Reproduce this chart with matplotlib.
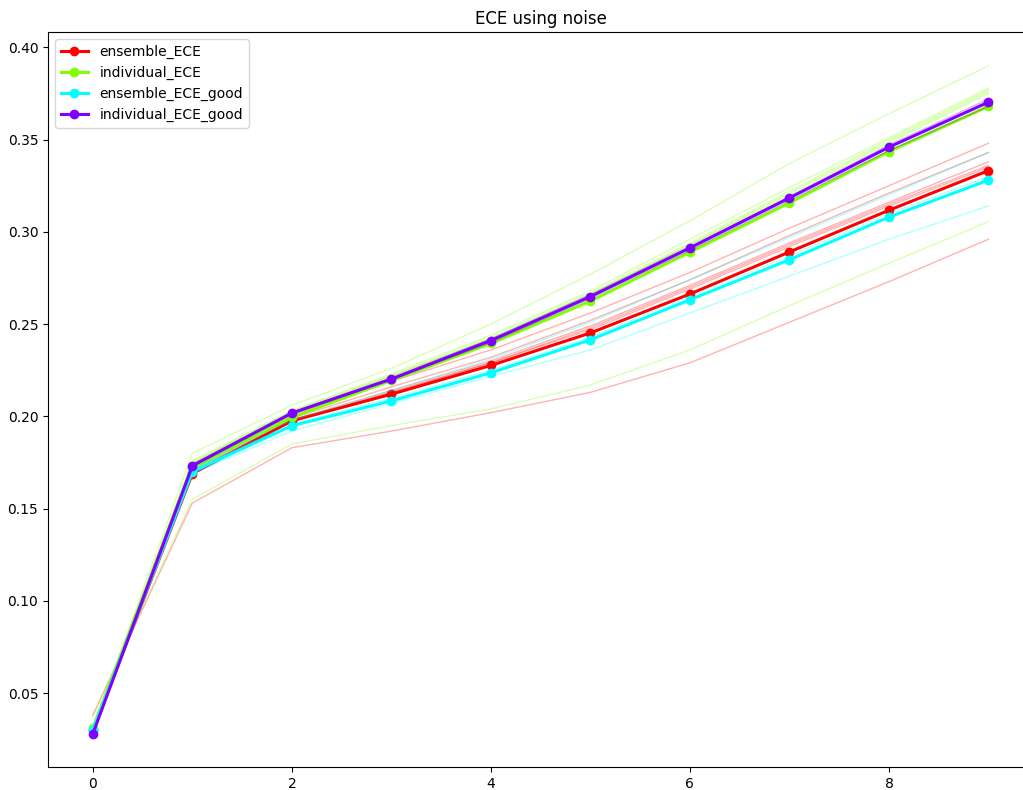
import numpy as np
import matplotlib
matplotlib.use("Agg")
import matplotlib.pyplot as plt

steps = np.arange(10)

# mean ECE per noise level
ensemble_ece = [0.030, 0.169, 0.1976, 0.212, 0.2276, 0.2452, 0.2663, 0.2891, 0.3117, 0.3332]
individual_ece = [0.031, 0.172, 0.1995, 0.2195, 0.2395, 0.2625, 0.289, 0.3157, 0.3435, 0.368]
ensemble_ece_good = [0.030, 0.170, 0.1949, 0.2084, 0.2236, 0.2415, 0.2632, 0.2849, 0.3080, 0.3280]
individual_ece_good = [0.028, 0.1732, 0.2018, 0.2202, 0.2411, 0.2649, 0.2913, 0.3184, 0.3459, 0.3703]

# single runs behind each mean
ensemble_runs = [
    [0.030, 0.174, 0.201, 0.219, 0.236, 0.256, 0.278, 0.302, 0.325, 0.348],
    [0.030, 0.172, 0.199, 0.216, 0.232, 0.252, 0.274, 0.298, 0.321, 0.343],
    [0.030, 0.171, 0.198, 0.214, 0.230, 0.249, 0.271, 0.294, 0.316, 0.338],
    [0.030, 0.170, 0.198, 0.213, 0.229, 0.248, 0.270, 0.293, 0.315, 0.336],
    [0.030, 0.170, 0.197, 0.213, 0.229, 0.247, 0.269, 0.292, 0.314, 0.335],
    [0.038, 0.153, 0.183, 0.192, 0.202, 0.213, 0.229, 0.251, 0.273, 0.296],
]
individual_runs = [
    [0.031, 0.180, 0.206, 0.226, 0.250, 0.277, 0.306, 0.337, 0.364, 0.390],
    [0.031, 0.176, 0.203, 0.223, 0.244, 0.268, 0.296, 0.324, 0.351, 0.378],
    [0.031, 0.175, 0.203, 0.222, 0.243, 0.267, 0.294, 0.322, 0.350, 0.377],
    [0.031, 0.175, 0.202, 0.222, 0.242, 0.266, 0.293, 0.321, 0.349, 0.376],
    [0.031, 0.174, 0.202, 0.221, 0.242, 0.266, 0.293, 0.320, 0.348, 0.375],
    [0.038, 0.155, 0.185, 0.195, 0.204, 0.217, 0.236, 0.260, 0.283, 0.3055],
]
ensemble_good_runs = [
    [0.030, 0.171, 0.196, 0.210, 0.225, 0.243, 0.265, 0.287, 0.310, 0.330],
    [0.030, 0.172, 0.198, 0.214, 0.231, 0.251, 0.274, 0.297, 0.320, 0.343],
    [0.030, 0.169, 0.192, 0.207, 0.2216, 0.236, 0.256, 0.276, 0.296, 0.314],
]
individual_good_runs = [
    [0.028, 0.174, 0.202, 0.221, 0.242, 0.266, 0.292, 0.319, 0.347, 0.372],
    [0.028, 0.173, 0.201, 0.220, 0.240, 0.264, 0.290, 0.317, 0.344, 0.368],
]

series = [
    ("ensemble_ECE", "#ff0000", ensemble_ece, ensemble_runs),
    ("individual_ECE", "#80ff00", individual_ece, individual_runs),
    ("ensemble_ECE_good", "#00ffff", ensemble_ece_good, ensemble_good_runs),
    ("individual_ECE_good", "#8000ff", individual_ece_good, individual_good_runs),
]

fig = plt.figure(figsize=(10.23, 7.9), dpi=100)
# the right edge runs past the canvas, like a tightly cropped figure
ax = fig.add_axes([0.047, 0.029, 0.963, 0.93])

for name, color, mean, runs in series:
    for run in runs:
        ax.plot(steps, run, color=color, alpha=0.3, linewidth=1)
    ax.plot(steps, mean, color=color, marker="o", linewidth=2.2, label=name)

ax.set_title("ECE using noise")
ax.legend(loc="upper left")

fig.savefig("out.png")
